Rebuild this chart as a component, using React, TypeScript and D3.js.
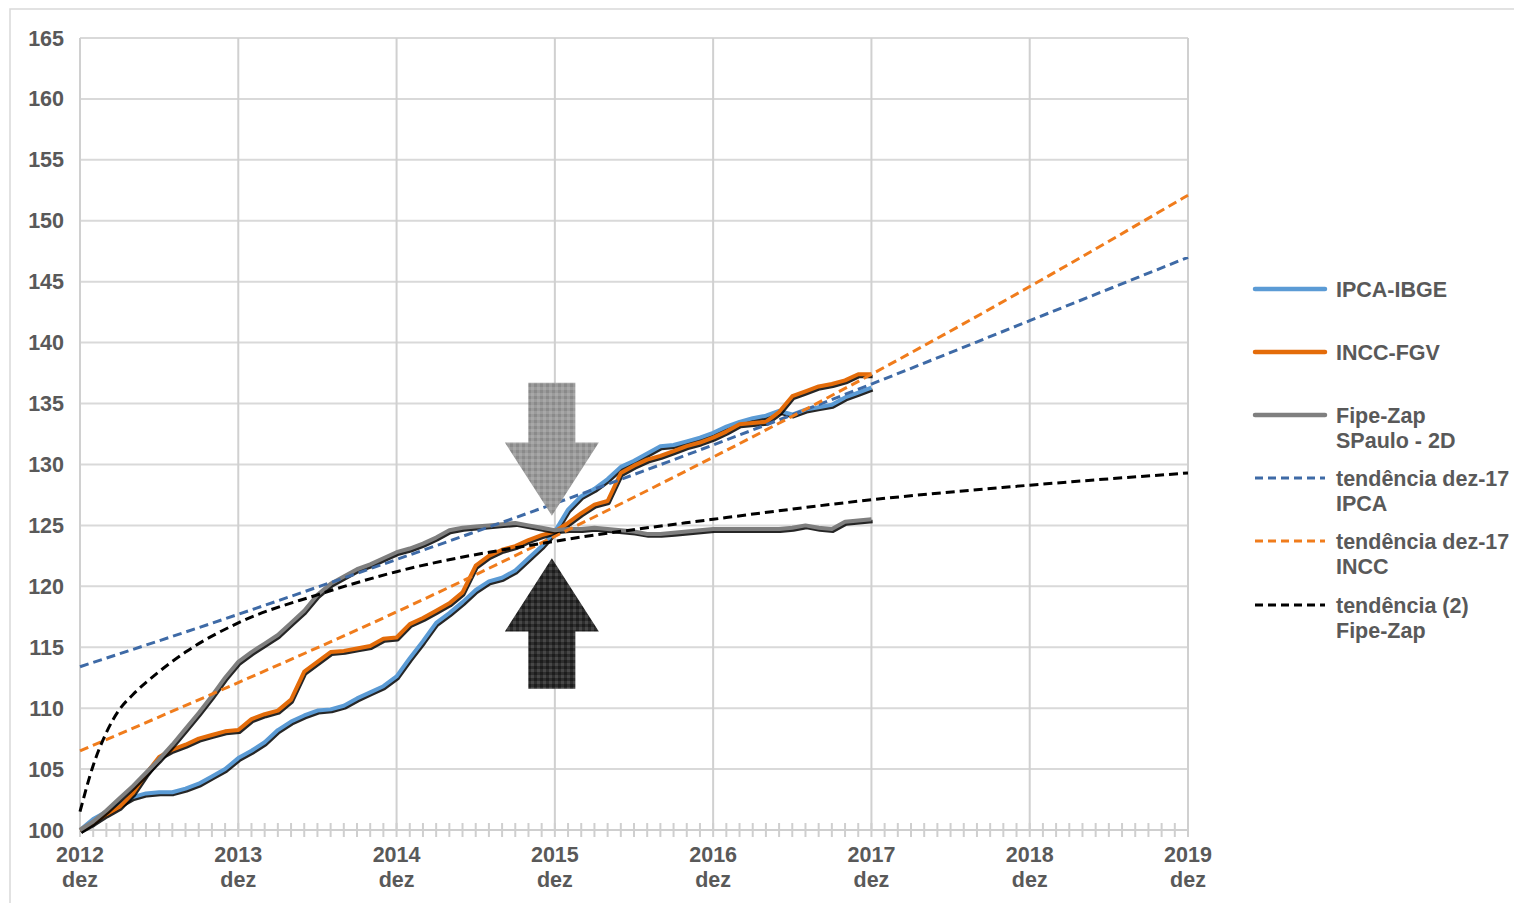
import React from 'react';
import * as d3 from 'd3';

// month index 0 = dez 2012 ... 60 = dez 2017
const ipca = [
  100.0, 100.9, 101.5, 102.1, 102.7, 103.0, 103.1, 103.1, 103.4, 103.8, 104.4, 105.0, 105.9,
  106.5, 107.2, 108.2, 108.9, 109.4, 109.8, 109.9, 110.2, 110.8, 111.3, 111.8, 112.6,
  114.1, 115.5, 117.0, 117.8, 118.7, 119.7, 120.4, 120.7, 121.3, 122.3, 123.3, 124.5,
  126.3, 127.4, 128.0, 128.8, 129.8, 130.3, 130.9, 131.5, 131.6, 131.9, 132.2, 132.6,
  133.1, 133.5, 133.8, 134.0, 134.4, 134.1, 134.5, 134.7, 134.9, 135.5, 135.9, 136.3,
];
const incc = [
  100.0, 100.6, 101.3, 101.9, 103.0, 104.6, 106.0, 106.6, 107.0, 107.5, 107.8, 108.1, 108.2,
  109.1, 109.5, 109.8, 110.7, 113.0, 113.8, 114.6, 114.7, 114.9, 115.1, 115.7, 115.8,
  116.9, 117.4, 118.0, 118.6, 119.5, 121.7, 122.5, 123.0, 123.3, 123.8, 124.2, 124.5,
  125.2, 126.0, 126.7, 127.0, 129.3, 129.9, 130.4, 130.7, 131.1, 131.5, 131.8, 132.2,
  132.7, 133.3, 133.4, 133.5, 134.3, 135.6, 136.0, 136.4, 136.6, 136.9, 137.4, 137.4,
];
const fipe = [
  100.0, 100.7, 101.6, 102.6, 103.6, 104.7, 105.8, 107.0, 108.3, 109.6, 111.0, 112.5, 113.8,
  114.6, 115.3, 116.0, 117.0, 118.0, 119.3, 120.2, 120.8, 121.4, 121.8, 122.3, 122.8,
  123.1, 123.5, 124.0, 124.6, 124.8, 124.9, 125.0, 125.1, 125.2, 125.0, 124.8, 124.6,
  124.7, 124.7, 124.8, 124.7, 124.6, 124.5, 124.3, 124.3, 124.4, 124.5, 124.6, 124.7,
  124.7, 124.7, 124.7, 124.7, 124.7, 124.8, 125.0, 124.8, 124.7, 125.3, 125.4, 125.5,
];

// trend lines (month index, value)
const trendIpcaMonths = [0, 12, 24, 36, 48, 60, 72, 84];
const trendIpcaValues = [113.4, 117.7, 122.2, 126.8, 131.6, 136.6, 141.8, 147.0];
const trendInccMonths = [0, 12, 24, 36, 48, 60, 72, 84];
const trendInccValues = [106.5, 112.1, 117.9, 124.1, 130.6, 137.4, 144.6, 152.1];
const trendFipeMonths = [0, 1, 2, 3, 4, 6, 8, 12, 18, 24, 36, 48, 60, 72, 84];
const trendFipeValues = [101.5, 105.3, 108.0, 109.9, 111.1, 113.0, 114.6, 117.0, 119.3, 121.2, 123.7, 125.5, 127.1, 128.3, 129.3];

const yearLabels = ['2012', '2013', '2014', '2015', '2016', '2017', '2018', '2019'];
const yTicks = d3.range(100, 166, 5);

const legendItems = [
  { lines: ['IPCA-IBGE'], color: '#5b9bd5', dash: null },
  { lines: ['INCC-FGV'], color: '#e46c0a', dash: null },
  { lines: ['Fipe-Zap', 'SPaulo - 2D'], color: '#7f7f7f', dash: null },
  { lines: ['tendência dez-17', 'IPCA'], color: '#3e6aa6', dash: '8,5' },
  { lines: ['tendência dez-17', 'INCC'], color: '#f07c1c', dash: '8,5' },
  { lines: ['tendência (2)', 'Fipe-Zap'], color: '#000000', dash: '8,5' },
];

const W = 1514;
const H = 903;
const x = d3.scaleLinear().domain([0, 84]).range([80, 1188]);
const y = d3.scaleLinear().domain([100, 165]).range([830, 38]);

const textColor = '#595959';
const font = '"Liberation Sans", Arial, sans-serif';
const fs = 21.5;

export default function App() {
  const line = d3.line<number>().x((_, i) => x(i)).y((d) => y(d));
  const trend = d3
    .line<[number, number]>()
    .x((d) => x(d[0]))
    .y((d) => y(d[1]))
    .curve(d3.curveMonotoneX);

  const zip = (m: number[], v: number[]) => m.map((mm, i) => [mm, v[i]] as [number, number]);

  const series = [
    { data: ipca, color: '#5b9bd5' },
    { data: incc, color: '#e46c0a' },
    { data: fipe, color: '#7f7f7f' },
  ];
  const trends = [
    { data: zip(trendIpcaMonths, trendIpcaValues), color: '#3e6aa6' },
    { data: zip(trendInccMonths, trendInccValues), color: '#f07c1c' },
    { data: zip(trendFipeMonths, trendFipeValues), color: '#000000' },
  ];

  // arrow annotations in data units
  const ax = x(36) - 3;
  const shaft = 23.5;
  const head = 47;
  const downArrow = [
    [ax - shaft, y(136.7)], [ax + shaft, y(136.7)], [ax + shaft, y(131.8)],
    [ax + head, y(131.8)], [ax, y(125.8)], [ax - head, y(131.8)], [ax - shaft, y(131.8)],
  ];
  const upArrow = [
    [ax - shaft, y(111.6)], [ax + shaft, y(111.6)], [ax + shaft, y(116.3)],
    [ax + head, y(116.3)], [ax, y(122.3)], [ax - head, y(116.3)], [ax - shaft, y(116.3)],
  ];
  const poly = (pts: number[][]) => 'M' + pts.map((p) => p.join(',')).join('L') + 'Z';

  const months = d3.range(0, 85);

  return (
    <div style={{ position: 'absolute', left: 0, top: 0 }}>
      <svg width={W} height={H} style={{ display: 'block', background: '#fff' }} fontFamily={font}>
        <defs>
          <pattern id="pGray" width="6" height="6" patternUnits="userSpaceOnUse">
            <rect width="6" height="6" fill="#9b9b9b" />
            <rect x="0" y="0" width="3" height="3" fill="#8a8a8a" />
            <rect x="3" y="3" width="3" height="3" fill="#a8a8a8" />
          </pattern>
          <pattern id="pDark" width="6" height="6" patternUnits="userSpaceOnUse">
            <rect width="6" height="6" fill="#2e2e2e" />
            <rect x="0" y="0" width="3" height="3" fill="#1c1c1c" />
            <rect x="3" y="3" width="3" height="3" fill="#474747" />
          </pattern>
        </defs>
        <rect x={10} y={9} width={W + 10} height={H + 10} fill="#fff" stroke="#d9d9d9" strokeWidth={1.5} />

        {/* horizontal gridlines */}
        {yTicks.map((t) => (
          <line key={t} x1={80} x2={1188} y1={y(t)} y2={y(t)} stroke="#d9d9d9" strokeWidth={2} />
        ))}
        {/* vertical year gridlines */}
        {yearLabels.map((_, i) => (
          <line key={i} x1={x(i * 12)} x2={x(i * 12)} y1={y(165)} y2={y(100)} stroke="#d0d0d0" strokeWidth={2} />
        ))}
        {/* monthly ticks */}
        {months.map((m) => (
          <line key={m} x1={x(m)} x2={x(m)} y1={y(100) - 7} y2={y(100) + 7} stroke="#cfcfcf" strokeWidth={2} />
        ))}
        <line x1={80} x2={1188} y1={y(100)} y2={y(100)} stroke="#cfcfcf" strokeWidth={2} />

        {/* y tick labels */}
        {yTicks.map((t) => (
          <text key={t} x={64} y={y(t)} dy="0.35em" textAnchor="end" fontSize={fs} fontWeight="bold" fill={textColor}>
            {t}
          </text>
        ))}
        {/* x labels */}
        {yearLabels.map((lab, i) => (
          <g key={lab} transform={`translate(${x(i * 12)},0)`}>
            <text y={862} textAnchor="middle" fontSize={fs} fontWeight="bold" fill={textColor}>{lab}</text>
            <text y={887} textAnchor="middle" fontSize={fs} fontWeight="bold" fill={textColor}>dez</text>
          </g>
        ))}

        {/* series with shadow */}
        {series.map((s, i) => (
          <g key={i}>
            <path d={line(s.data) || ''} fill="none" stroke="#000" strokeWidth={3.5} strokeLinejoin="round"
              transform="translate(1.2,2.2)" opacity={0.85} />
            <path d={line(s.data) || ''} fill="none" stroke={s.color} strokeWidth={4} strokeLinejoin="round" />
          </g>
        ))}

        {/* trendlines */}
        {trends.map((t, i) => (
          <path key={i} d={trend(t.data) || ''} fill="none" stroke={t.color} strokeWidth={3} strokeDasharray="9,5" />
        ))}

        {/* arrows */}
        <path d={poly(downArrow)} fill="url(#pGray)" />
        <path d={poly(upArrow)} fill="url(#pDark)" />

        {/* legend */}
        {legendItems.map((it, i) => {
          const ly = [289, 352, 415, 478, 541, 605][i];
          return (
            <g key={i}>
              <line x1={1255} x2={1325} y1={ly} y2={ly} stroke={it.color}
                strokeWidth={it.dash ? 3 : 4.5} strokeDasharray={it.dash || undefined} strokeLinecap={it.dash ? 'butt' : 'round'} />
              {it.lines.map((l, j) => (
                <text key={j} x={1336} y={ly + j * 25} dy="0.35em" fontSize={fs} fontWeight="bold" fill={textColor}>
                  {l}
                </text>
              ))}
            </g>
          );
        })}
      </svg>
    </div>
  );
}
